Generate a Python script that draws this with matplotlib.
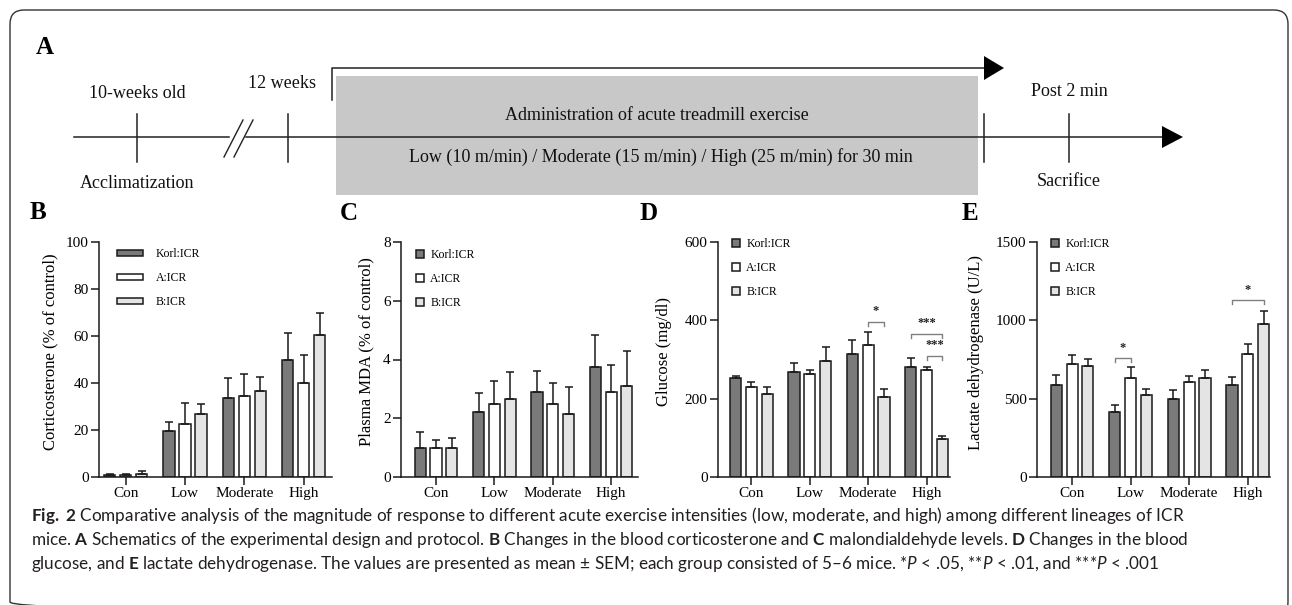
import matplotlib.pyplot as plt
import numpy as np
from matplotlib.patches import FancyBboxPatch, Rectangle, Polygon

plt.rcParams['font.family'] = 'Liberation Serif'
plt.rcParams['mathtext.fontset'] = 'custom'
plt.rcParams['mathtext.rm'] = 'Lato'
plt.rcParams['mathtext.bf'] = 'Lato:bold'
plt.rcParams['mathtext.it'] = 'Lato:italic'

W, H = 1292, 605

# ---- data ----
groups = ['Con', 'Low', 'Moderate', 'High']
lineages = ['Korl:ICR', 'A:ICR', 'B:ICR']
bar_colors = ['#7a7a7a', '#ffffff', '#e4e4e4']

# rows: Korl:ICR, A:ICR, B:ICR
cort_mean = [[0.8, 19.5, 33.5, 50.0], [0.8, 22.5, 34.3, 39.8], [1.2, 27.0, 36.4, 60.6]]
cort_sem = [[0.4, 3.8, 8.5, 11.4], [0.5, 9.0, 9.7, 12.0], [1.3, 4.0, 6.0, 9.3]]

mda_mean = [[1.0, 2.21, 2.88, 3.73], [1.0, 2.48, 2.49, 2.88], [1.0, 2.66, 2.14, 3.10]]
mda_sem = [[0.54, 0.65, 0.74, 1.10], [0.27, 0.80, 0.70, 0.93], [0.32, 0.91, 0.91, 1.19]]

gluc_mean = [[252, 267, 313, 282], [229, 262, 338, 272], [211, 297, 203, 97]]
gluc_sem = [[7, 25, 38, 23], [13, 10, 31, 8], [18, 34, 21, 7]]

ldh_mean = [[589, 414, 497, 590], [723, 632, 609, 788], [706, 521, 632, 974]]
ldh_sem = [[62, 43, 56, 48], [58, 70, 34, 58], [47, 41, 49, 84]]

# significance: (group, lineage i, lineage j, bracket height, label)
gluc_sig = [(2, 1, 2, 397, '*'), (3, 0, 2, 366, '***'), (3, 1, 2, 310, '***')]
ldh_sig = [(1, 0, 1, 760, '*'), (3, 0, 2, 1130, '*')]

fig = plt.figure(figsize=(W / 100, H / 100), dpi=100)

# background axes in pixel units for the schematic and frame
bg = fig.add_axes([0, 0, 1, 1])
bg.set_xlim(0, W)
bg.set_ylim(H, 0)
bg.axis('off')

bg.add_patch(FancyBboxPatch((10, 10), 1278, 606, boxstyle='round,pad=0,rounding_size=14',
                            fc='none', ec='#333333', lw=1.0))

# ---- panel A: timeline ----
txt = dict(fontsize=13, ha='center', va='center', color='#111111')
bg.text(45, 47, 'A', fontsize=18, fontweight='bold', ha='center', va='center')
bg.add_patch(Rectangle((336, 76), 642, 119, fc='#c8c8c8', ec='none', zorder=1))
bg.plot([74, 229], [137, 137], color='#222222', lw=1.1, zorder=2)
bg.plot([246, 1165], [137, 137], color='#222222', lw=1.1, zorder=2)
bg.add_patch(Polygon([(1162, 126), (1162, 148), (1183, 137)], closed=True, fc='black', zorder=3))
bg.plot([224, 243], [157, 120], color='#222222', lw=1.0)
bg.plot([234, 253], [157, 120], color='#222222', lw=1.0)
for tx in [137, 288, 984, 1069]:
    bg.plot([tx, tx], [114, 162], color='#222222', lw=1.1, zorder=2)
bg.plot([332, 332, 986], [100, 68, 68], color='#222222', lw=1.1, zorder=2)
bg.add_patch(Polygon([(984, 56), (984, 80), (1004, 68)], closed=True, fc='black', zorder=3))

bg.text(137, 93, '10-weeks old', **txt)
bg.text(137, 183, 'Acclimatization', **txt)
bg.text(282, 83, '12 weeks', **txt)
bg.text(657, 115, 'Administration of acute treadmill exercise', **txt)
bg.text(661, 157, 'Low (10 m/min) / Moderate (15 m/min) / High (25 m/min) for 30 min', **txt)
bg.text(1069, 92, 'Post 2 min', **txt)
bg.text(1069, 182, 'Sacrifice', **txt)

# ---- bar panels ----
Y_TOP, Y_BOT = 242, 477
OFF, BW = 0.27, 0.19


def bar_panel(x0, x1, xlim, means, sems, ymax, ystep, letter, letter_xy, ylabel, ylabel_x,
              leg_xy, leg_style, sig=None):
    ax = fig.add_axes([x0 / W, 1 - Y_BOT / H, (x1 - x0) / W, (Y_BOT - Y_TOP) / H])
    x = np.arange(len(groups))
    for i, name in enumerate(lineages):
        xi = x + (i - 1) * OFF
        ax.bar(xi, means[i], BW, color=bar_colors[i], edgecolor='#1a1a1a', lw=1.1,
               zorder=2, label=name)
        ax.errorbar(xi, means[i], yerr=[np.zeros(len(groups)), sems[i]], fmt='none',
                    ecolor='#1a1a1a', elinewidth=1.1, capsize=3, capthick=1.1, zorder=3)
    ax.set_xlim(*xlim)
    ax.set_ylim(0, ymax)
    ax.set_xticks(x)
    ax.set_xticklabels(groups)
    ax.set_yticks(np.arange(0, ymax + ystep / 2, ystep))
    for s in ['top', 'right']:
        ax.spines[s].set_visible(False)
    for s in ['left', 'bottom']:
        ax.spines[s].set_linewidth(1.1)
        ax.spines[s].set_color('#1a1a1a')
    ax.tick_params(length=6, width=1.1, labelsize=11, pad=1.5, color='#1a1a1a')
    ax.patch.set_alpha(0)

    if leg_style == 'long':
        hl, hh, tp = 2.2, 0.42, 1.1
    else:
        hl, hh, tp = 0.7, 0.7, 0.5
    ax.legend(loc='upper left', bbox_to_anchor=(leg_xy[0] / W, 1 - leg_xy[1] / H),
              bbox_transform=fig.transFigure, frameon=False, fontsize=8.5,
              handlelength=hl, handleheight=hh, handletextpad=tp, labelspacing=1.02,
              borderpad=0, borderaxespad=0)

    if sig:
        for g, i, j, yb, lab in sig:
            xa, xb = g + (i - 1) * OFF, g + (j - 1) * OFF
            leg = ymax * 0.018
            ax.plot([xa, xa, xb, xb], [yb - leg, yb, yb, yb - leg], color='#808080',
                    lw=1.0, zorder=4)
            ax.text((xa + xb) / 2, yb + ymax * 0.018, lab, ha='center', va='bottom',
                    fontsize=9, fontweight='bold', color='#222222')

    fig.text(letter_xy[0] / W, 1 - letter_xy[1] / H, letter, fontsize=18, fontweight='bold',
             ha='center', va='center')
    fig.text(ylabel_x / W, 1 - 352 / H, ylabel, fontsize=12, rotation=90, ha='center',
             va='center')
    return ax


bar_panel(99, 332, (-0.45, 3.48), cort_mean, cort_sem, 100, 20, 'B', (38, 212),
          'Corticosterone (% of control)', 50, (117, 248), 'long')
bar_panel(401, 638, (-0.6, 3.46), mda_mean, mda_sem, 8, 2, 'C', (349, 213),
          'Plasma MDA (% of control)', 366, (416, 249), 'square')
bar_panel(718, 950, (-0.57, 3.4), gluc_mean, gluc_sem, 600, 200, 'D', (649, 214),
          'Glucose (mg/dl)', 664, (732, 238), 'square', sig=gluc_sig)
bar_panel(1037, 1270, (-0.6, 3.38), ldh_mean, ldh_sem, 1500, 500, 'E', (970, 213),
          'Lactate dehydrogenase (U/L)', 976, (1051, 238), 'square', sig=ldh_sig)

# ---- caption ----
cap = dict(fontsize=12.37, family='Lato', color='#231f20', ha='left', va='center')
fig.text(31 / W, 1 - 515 / H,
         r'$\mathbf{Fig.\ 2}$ Comparative analysis of the magnitude of response to different acute '
         r'exercise intensities (low, moderate, and high) among different lineages of ICR', **cap)
fig.text(31 / W, 1 - 540 / H,
         r'mice. $\mathbf{A}$ Schematics of the experimental design and protocol. $\mathbf{B}$ '
         r'Changes in the blood corticosterone and $\mathbf{C}$ malondialdehyde levels. '
         r'$\mathbf{D}$ Changes in the blood', **cap)
fig.text(31 / W, 1 - 564 / H,
         r'glucose, and $\mathbf{E}$ lactate dehydrogenase. The values are presented as mean ± SEM; '
         r'each group consisted of 5–6 mice. *$\mathit{P}$ < .05, **$\mathit{P}$ < .01, and '
         r'***$\mathit{P}$ < .001', **cap)

fig.savefig('out.png', dpi=100)
